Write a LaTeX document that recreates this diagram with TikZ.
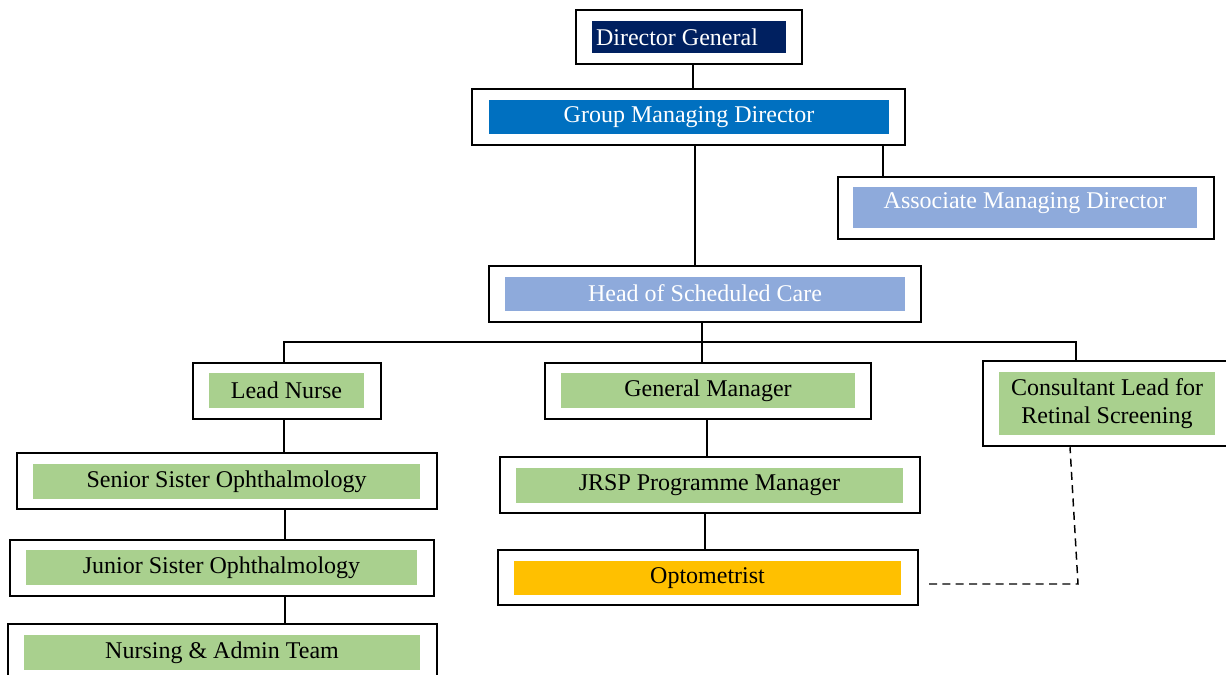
\documentclass[tikz,border=0pt]{standalone}
\usepackage{fontspec}
\setmainfont{Liberation Serif}
\usetikzlibrary{fit}
\definecolor{navy}{HTML}{002060}
\definecolor{gmblue}{HTML}{0070C0}
\definecolor{lblue}{HTML}{8EAADB}
\definecolor{lgreen}{HTML}{A9D08E}
\definecolor{amber}{HTML}{FFC000}
\begin{document}
\begin{tikzpicture}[x=0.75pt,y=-0.75pt,
  frame/.style={draw=black, line width=1.9pt, inner sep=0pt, fill=white},
  band/.style={inner sep=0pt},
  lbl/.style={inner sep=0pt, font=\fontsize{18}{21}\selectfont, text=black, align=center},
  link/.style={draw=black, line width=1.1pt},
  dotlink/.style={draw=black, line width=1.1pt, dash pattern=on 6pt off 4pt}]
\useasboundingbox (0,0) rectangle (1226,674);

% frames
\node[frame, fit={(576,10) (802,64)}] (dg) {};
\node[frame, fit={(472,89) (905,145)}] (gmd) {};
\node[frame, fit={(838,177) (1214,239)}] (amd) {};
\node[frame, fit={(489,266) (921,322)}] (hsc) {};
\node[frame, fit={(193,363) (381,419)}] (ln) {};
\node[frame, fit={(545,363) (871,419)}] (gm) {};
\node[frame, fit={(983,361) (1232,446)}] (cl) {};
\node[frame, fit={(17,453) (437,509)}] (ss) {};
\node[frame, fit={(10,540) (434,596)}] (js) {};
\node[frame, fit={(8,624) (437,690)}] (na) {};
\node[frame, fit={(500,457) (920,513)}] (jr) {};
\node[frame, fit={(498,550) (918,605)}] (opt) {};

% coloured bands
\node[band, fill=navy, fit={(592,21) (786,53)}] (dgf) {};
\node[band, fill=gmblue, fit={(489,100) (889,134)}] (gmdf) {};
\node[band, fill=lblue, fit={(853,187) (1197,228)}] (amdf) {};
\node[band, fill=lblue, fit={(505,277) (905,311)}] (hscf) {};
\node[band, fill=lgreen, fit={(209,373) (364,408)}] (lnf) {};
\node[band, fill=lgreen, fit={(561,373) (855,408)}] (gmf) {};
\node[band, fill=lgreen, fit={(999,372) (1215,435)}] (clf) {};
\node[band, fill=lgreen, fit={(33,464) (420,499)}] (ssf) {};
\node[band, fill=lgreen, fit={(26,550) (417,585)}] (jsf) {};
\node[band, fill=lgreen, fit={(24,635) (420,670)}] (naf) {};
\node[band, fill=lgreen, fit={(516,468) (903,503)}] (jrf) {};
\node[band, fill=amber, fit={(514,561) (901,595)}] (optf) {};

% labels
\node[lbl, text=white, anchor=west] (dgt) at ([xshift=3pt]dgf.west) {Director General};
\node[lbl, text=white] (gmdt) at (gmdf.center) {Group Managing Director};
\node[lbl, text=white] (amdt) at ([yshift=3.5pt]amdf.center) {Associate Managing Director};
\node[lbl, text=white] (hsct) at ([yshift=1pt]hscf.center) {Head of Scheduled Care};
\node[lbl] (lnt) at (lnf.center) {Lead Nurse};
\node[lbl] (gmt) at (gmf.center) {General Manager};
\node[lbl] (clt) at (clf.center) {Consultant Lead for\\Retinal Screening};
\node[lbl] (sst) at (ssf.center) {Senior Sister Ophthalmology};
\node[lbl] (jst) at (jsf.center) {Junior Sister Ophthalmology};
\node[lbl] (nat) at (naf.center) {Nursing \& Admin Team};
\node[lbl] (jrt) at (jrf.center) {JRSP Programme Manager};
\node[lbl] (optt) at (optf.center) {Optometrist};

% helper coordinates
\coordinate (x693) at (693,0);
\coordinate (x695) at (695,0);
\coordinate (x883) at (883,0);
\coordinate (x702) at (702,0);
\coordinate (bl) at (284,342);
\coordinate (br) at (1076,342);
\coordinate (x285) at (285,0);
\coordinate (x707) at (707,0);
\coordinate (x705) at (705,0);
\coordinate (d0) at (929,584);
\coordinate (d1) at (1078,584);
\coordinate (x1070) at (1070,0);

% connectors
\draw[link] (dg.south -| x693) -- (gmd.north -| x693);
\draw[link] (gmd.south -| x695) -- (hsc.north -| x695);
\draw[link] (gmd.south -| x883) -- (amd.north -| x883);
\draw[link] (hsc.south -| x702) -- (gm.north -| x702);
\draw[link] (ln.north -| bl) -- (bl) -- (br) -- (cl.north -| br);
\draw[link] (ln.south -| bl) -- (ss.north -| bl);
\draw[link] (ss.south -| x285) -- (js.north -| x285);
\draw[link] (js.south -| x285) -- (na.north -| x285);
\draw[link] (gm.south -| x707) -- (jr.north -| x707);
\draw[link] (jr.south -| x705) -- (opt.north -| x705);
\draw[dotlink] (d0) -- (d1) -- (cl.south -| x1070);
\end{tikzpicture}
\end{document}
